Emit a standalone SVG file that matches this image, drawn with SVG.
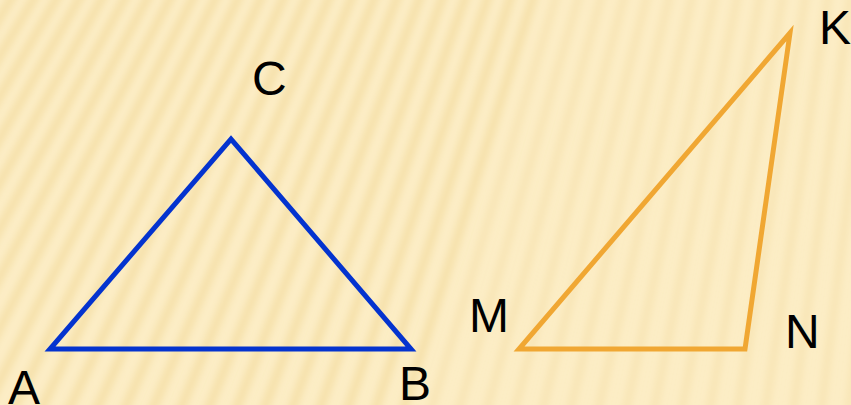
<svg xmlns="http://www.w3.org/2000/svg" width="851" height="405" viewBox="0 0 851 405">
<defs>
<filter id="blur" x="-10%" y="-10%" width="120%" height="120%"><feGaussianBlur stdDeviation="3.5"/></filter>
<style>
.stripe{fill:none;stroke:#EFD592;stroke-width:9;stroke-opacity:0.5}
.stripe-faint{fill:none;stroke:#EFD592;stroke-width:8;stroke-opacity:0.32}
.lbl{font-family:"Liberation Sans",Arial,sans-serif;font-size:48px;fill:#000}
.tri-blue{fill:none;stroke:#0433CF;stroke-width:5;stroke-linejoin:miter}
.tri-orange{fill:none;stroke:#F0A733;stroke-width:5;stroke-linejoin:miter}
</style>
</defs>
<rect id="background" x="0" y="0" width="851" height="405" fill="#FCEDC5"/>
<g id="stripes" filter="url(#blur)">
<path class="stripe" d="M1100 -1800L-300 420M1100 -1800L-272 420M1100 -1800L-244 420M1100 -1800L-216 420M1100 -1800L-188 420M1100 -1800L-160 420M1100 -1800L-132 420M1100 -1800L-104 420M1100 -1800L-76 420M1100 -1800L-48 420M1100 -1800L-20 420M1100 -1800L8 420M1100 -1800L36 420M1100 -1800L64 420M1100 -1800L92 420M1100 -1800L120 420M1100 -1800L148 420M1100 -1800L176 420M1100 -1800L204 420M1100 -1800L232 420M1100 -1800L260 420M1100 -1800L288 420M1100 -1800L316 420M1100 -1800L344 420M1100 -1800L372 420M1100 -1800L400 420"/>
<path class="stripe-faint" d="M1100 -1800L428 420M1100 -1800L456 420M1100 -1800L484 420M1100 -1800L512 420M1100 -1800L540 420M1100 -1800L568 420M1100 -1800L596 420M1100 -1800L624 420M1100 -1800L652 420M1100 -1800L680 420M1100 -1800L708 420M1100 -1800L736 420M1100 -1800L764 420M1100 -1800L792 420M1100 -1800L820 420M1100 -1800L848 420M1100 -1800L876 420"/>
</g>
<g id="triangle-ABC">
<polygon class="tri-blue" points="50,349 411,349 231,139"/>
</g>
<g id="triangle-MNK">
<polygon class="tri-orange" points="519,349 745,349 790,33"/>
</g>
<g id="label-A"><text class="lbl" x="8" y="404">A</text></g>
<g id="label-B"><text class="lbl" x="399" y="400">B</text></g>
<g id="label-C"><text class="lbl" x="252" y="95">C</text></g>
<g id="label-M"><text class="lbl" x="469" y="332">M</text></g>
<g id="label-N"><text class="lbl" x="785" y="348">N</text></g>
<g id="label-K"><text class="lbl" x="819" y="44">K</text></g>
</svg>
